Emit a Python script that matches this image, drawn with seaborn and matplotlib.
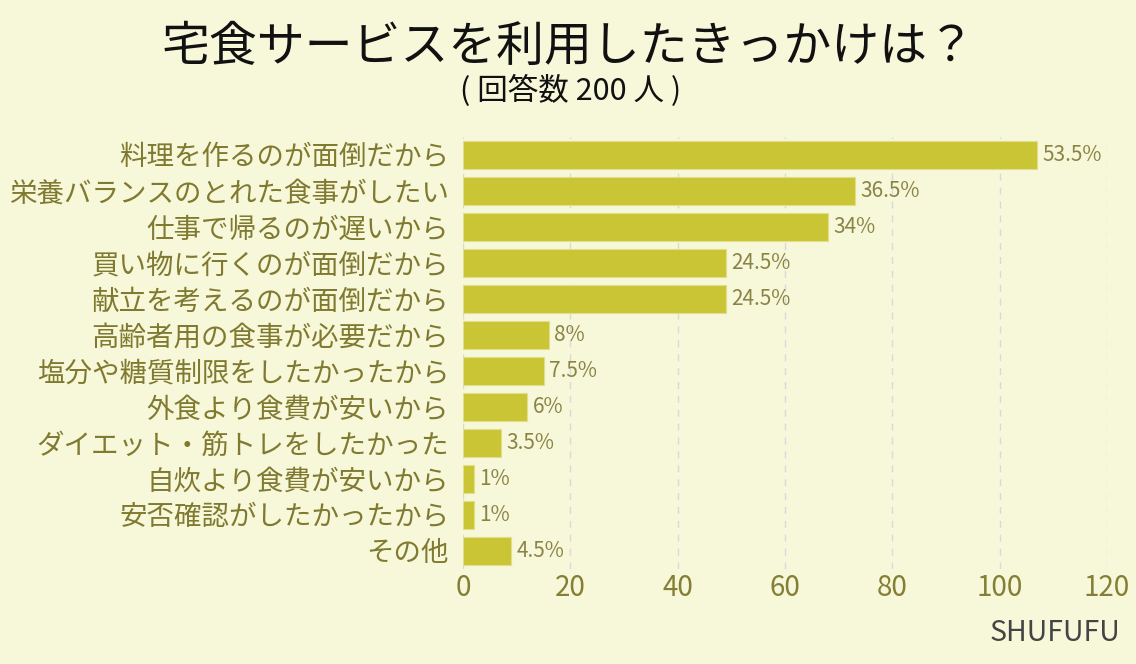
import matplotlib
matplotlib.use("Agg")
import matplotlib.pyplot as plt
import seaborn as sns
import pandas as pd

categories = [
    "料理を作るのが面倒だから",
    "栄養バランスのとれた食事がしたい",
    "仕事で帰るのが遅いから",
    "買い物に行くのが面倒だから",
    "献立を考えるのが面倒だから",
    "高齢者用の食事が必要だから",
    "塩分や糖質制限をしたかったから",
    "外食より食費が安いから",
    "ダイエット・筋トレをしたかった",
    "自炊より食費が安いから",
    "安否確認がしたかったから",
    "その他",
]
counts = [107, 73, 68, 49, 49, 16, 15, 12, 7, 2, 2, 9]
pct_labels = ["53.5%", "36.5%", "34%", "24.5%", "24.5%", "8%", "7.5%", "6%", "3.5%", "1%", "1%", "4.5%"]
xticks = [0, 20, 40, 60, 80, 100, 120]

title = "宅食サービスを利用したきっかけは？"
subtitle = "( 回答数 200 人 )"
credit = "SHUFUFU"

bg = "#f7f7da"
bar_color = "#c9c534"
olive = "#807a30"

sns.set_theme(style="white")
plt.rcParams["font.family"] = ["Noto Sans CJK JP", "DejaVu Sans"]

df = pd.DataFrame({"cat": categories, "count": counts})

fig = plt.figure(figsize=(11.36, 6.64), dpi=100, facecolor=bg)
ax = fig.add_axes([0.4076, 0.1431, 0.5669, 0.6506])
ax.set_facecolor(bg)

sns.barplot(data=df, x="count", y="cat", orient="h", color=bar_color,
            saturation=1, width=0.78, edgecolor="#e2df8a", linewidth=0.8, ax=ax)

for i, (v, lab) in enumerate(zip(counts, pct_labels)):
    ax.text(v + 1.0, i, lab, va="center", ha="left", fontsize=15, color="#8a8444")

ax.set_xlim(0, 120)
ax.set_ylim(11.5, -0.5)
ax.set_xticks(xticks)
ax.set_xticklabels([str(t) for t in xticks], fontsize=20, color="#857e35")
ax.tick_params(axis="y", labelsize=19.8, labelcolor=olive, length=0, pad=10)
ax.tick_params(axis="x", length=0, pad=3)
ax.set_xlabel("")
ax.set_ylabel("")
ax.grid(axis="x", color="#d9d9dc", linestyle=(0, (5, 5)), linewidth=1)
ax.set_axisbelow(True)
for s in ax.spines.values():
    s.set_visible(False)

fig.text(0.5, 0.929, title, ha="center", va="center", fontsize=34.5, color="#111111")
fig.text(0.502, 0.863, subtitle, ha="center", va="center", fontsize=22, color="#111111")
fig.text(0.986, 0.047, credit, ha="right", va="center", fontsize=20.5, color="#444444")

fig.savefig("out.png", dpi=100, facecolor=bg)
